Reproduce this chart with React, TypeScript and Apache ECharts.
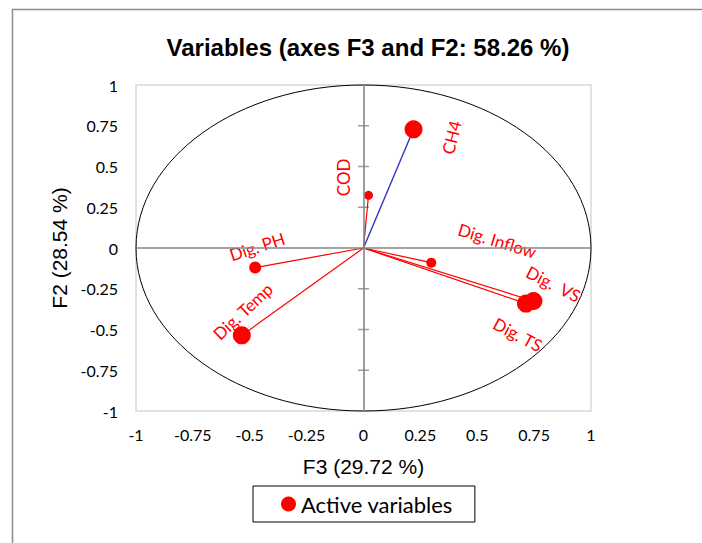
import React, { useEffect, useRef } from "react";
import * as echarts from "echarts";

// ---- data ----
const variableNames = ["CH4", "COD", "Dig. Inflow", "Dig.  VS", "Dig. TS", "Dig. PH", "Dig. Temp"];
const f3Values = [0.22, 0.022, 0.298, 0.747, 0.714, -0.476, -0.535];
const f2Values = [0.728, 0.323, -0.09, -0.325, -0.341, -0.12, -0.536];
const axisTickValues = [-1, -0.75, -0.5, -0.25, 0, 0.25, 0.5, 0.75, 1];
const seriesName = "Active variables";
const chartTitle = "Variables (axes F3 and F2: 58.26 %)";
const xAxisTitle = "F3 (29.72 %)";
const yAxisTitle = "F2 (28.54 %)";

// ---- styles (per variable label placement, marker size, vector colour) ----
const styleByName: Record<string, { rotate: number; dx: number; dy: number; size: number; line: string; width: number }> = {
  "CH4": { rotate: 76, dx: 38, dy: 8, size: 18, line: "#3333cc", width: 1.4 },
  "COD": { rotate: 90, dx: -25, dy: -18, size: 9, line: "#ff0000", width: 1.2 },
  "Dig. Inflow": { rotate: -17, dx: 66, dy: -22, size: 10, line: "#ff0000", width: 1.2 },
  "Dig.  VS": { rotate: -27, dx: 20, dy: -17, size: 18, line: "#ff0000", width: 1.2 },
  "Dig. TS": { rotate: -28, dx: -8, dy: 31, size: 18, line: "#ff0000", width: 1.2 },
  "Dig. PH": { rotate: 18, dx: 2, dy: -21, size: 12, line: "#ff0000", width: 1.2 },
  "Dig. Temp": { rotate: 43, dx: 1, dy: -24, size: 18, line: "#ff0000", width: 1.2 },
};

const LABEL_FONT = "Lato, 'Liberation Sans', sans-serif";
const ARIAL = "'Liberation Sans', Arial, sans-serif";

function rotatedOffset(dx: number, dy: number, deg: number): [number, number] {
  const r = (deg * Math.PI) / 180;
  return [dx * Math.cos(r) - dy * Math.sin(r), dx * Math.sin(r) + dy * Math.cos(r)];
}

export default function App() {
  const ref = useRef<HTMLDivElement>(null);
  useEffect(() => {
    if (!ref.current) return;
    const chart = echarts.init(ref.current, undefined, { renderer: "svg" });

    const scatterData = variableNames.map((n, i) => {
      const s = styleByName[n];
      return {
        name: n,
        value: [f3Values[i], f2Values[i]],
        symbolSize: s.size,
        label: { rotate: s.rotate, offset: rotatedOffset(s.dx, s.dy, s.rotate) },
      };
    });

    const lineData = variableNames.map((n, i) => ({
      coords: [
        [0, 0],
        [f3Values[i], f2Values[i]],
      ],
      lineStyle: { color: styleByName[n].line, width: styleByName[n].width, opacity: 1 },
    }));

    const crossTicks = axisTickValues.filter((v) => v !== 0 && Math.abs(v) !== 1).map((v) => [0, v]);

    chart.setOption({
      animation: false,
      backgroundColor: "#ffffff",
      title: {
        text: chartTitle,
        left: 363,
        top: 30,
        textAlign: "center",
        textStyle: { fontFamily: ARIAL, fontSize: 24, fontWeight: "bold", color: "#000" },
      },
      graphic: [
        {
          type: "rect",
          silent: true,
          shape: { x: 12.5, y: 9.5, width: 900, height: 800 },
          style: { fill: "none", stroke: "#8c8c8c", lineWidth: 1.5 },
        },
      ],
      legend: {
        data: [seriesName],
        left: 253,
        top: 486,
        icon: "circle",
        itemWidth: 15,
        itemHeight: 15,
        itemGap: 6,
        borderColor: "#000",
        borderWidth: 1,
        padding: [7, 22, 7, 28],
        textStyle: { fontFamily: LABEL_FONT, fontSize: 22, color: "#000" },
      },
      grid: {
        left: 136,
        right: 111,
        top: 85,
        bottom: 132,
        show: true,
        borderColor: "#d9d9d9",
        borderWidth: 1.5,
      },
      xAxis: {
        type: "value",
        min: -1,
        max: 1,
        interval: 0.25,
        axisLine: { show: false },
        axisTick: { show: false },
        splitLine: { show: false },
        axisLabel: { fontFamily: LABEL_FONT, fontSize: 16, color: "#000", margin: 15 },
        name: xAxisTitle,
        nameLocation: "middle",
        nameGap: 45,
        nameTextStyle: { fontFamily: ARIAL, fontSize: 21, color: "#000" },
      },
      yAxis: {
        type: "value",
        min: -1,
        max: 1,
        interval: 0.25,
        axisLine: { show: false },
        axisTick: { show: false },
        splitLine: { show: false },
        axisLabel: { fontFamily: LABEL_FONT, fontSize: 16, color: "#000", margin: 18 },
        name: yAxisTitle,
        nameLocation: "middle",
        nameGap: 63,
        nameRotate: 90,
        nameTextStyle: { fontFamily: ARIAL, fontSize: 21, color: "#000" },
      },
      series: [
        {
          type: "custom",
          name: "circle",
          silent: true,
          z: 1,
          data: [[0, 0]],
          renderItem: (params: any, api: any) => {
            const c = api.coord([0, 0]);
            const e = api.coord([1, 1]);
            return {
              type: "ellipse",
              shape: { cx: c[0], cy: c[1], rx: e[0] - c[0], ry: c[1] - e[1] },
              style: { fill: "none", stroke: "#000", lineWidth: 1 },
            };
          },
        },
        {
          type: "scatter",
          name: "axes",
          silent: true,
          z: 2,
          symbol: "rect",
          symbolSize: [11, 1.5],
          itemStyle: { color: "#868686" },
          data: crossTicks,
          markLine: {
            silent: true,
            symbol: ["none", "none"],
            label: { show: false },
            lineStyle: { color: "#868686", width: 1.6, type: "solid" },
            data: [{ xAxis: 0 }, { yAxis: 0 }],
          },
        },
        {
          type: "lines",
          name: "vectors",
          coordinateSystem: "cartesian2d",
          silent: true,
          z: 3,
          data: lineData,
        },
        {
          type: "scatter",
          name: seriesName,
          z: 4,
          itemStyle: { color: "#ff0000", opacity: 1 },
          label: {
            show: true,
            position: "inside",
            formatter: "{b}",
            color: "#ff0000",
            fontFamily: LABEL_FONT,
            fontSize: 17,
          },
          data: scatterData,
        },
      ],
    });
    return () => chart.dispose();
  }, []);

  return <div ref={ref} style={{ position: "fixed", left: 0, top: 0, width: 702, height: 543 }} />;
}
